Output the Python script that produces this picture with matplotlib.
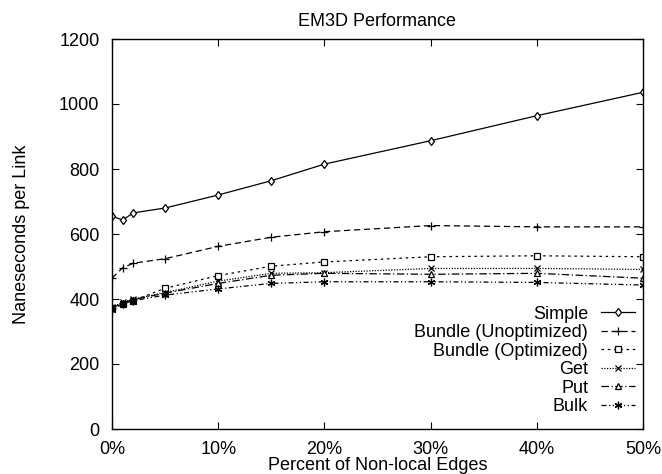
import matplotlib
matplotlib.use("Agg")
import matplotlib.pyplot as plt

plt.rcParams['font.family'] = ['Liberation Sans', 'DejaVu Sans']

x_pct = [0, 1, 2, 5, 10, 15, 20, 30, 40, 50]
simple = [655, 643, 665, 680, 720, 764, 815, 887, 964, 1036]
bundle_unopt = [464, 496, 510, 524, 562, 590, 607, 626, 622, 622]
bundle_opt = [371, 385, 395, 433, 472, 501, 514, 530, 533, 530]
get_vals = [375, 390, 400, 420, 455, 479, 481, 494, 494, 491]
put_vals = [372, 388, 398, 418, 448, 473, 479, 476, 479, 464]
bulk_vals = [365, 385, 395, 412, 431, 448, 453, 453, 451, 443]

labels = ["Simple", "Bundle (Unoptimized)", "Bundle (Optimized)", "Get", "Put", "Bulk"]
series = [simple, bundle_unopt, bundle_opt, get_vals, put_vals, bulk_vals]
xticks = [0, 10, 20, 30, 40, 50]
xticklabels = ["0%", "10%", "20%", "30%", "40%", "50%"]
yticks = [0, 200, 400, 600, 800, 1000, 1200]

styles = [
    dict(ls='-', marker='d', mfc='white', ms=4.5),
    dict(ls=(0, (5, 3)), marker='+', ms=6),
    dict(ls=(0, (2, 3)), marker='s', mfc='white', ms=4.5),
    dict(ls=(0, (1, 1.2)), marker='x', ms=4.5),
    dict(ls=(0, (6, 2, 1, 2)), marker='^', mfc='white', ms=4.5),
    dict(ls=(0, (4, 2, 1, 2, 1, 2)), marker=(6, 2, 0), ms=5.5),
]

fig = plt.figure(figsize=(6.62, 4.74), dpi=100)
ax = fig.add_axes([112/662, 1-429/474, 531/662, 390/474])

for lab, vals, st in zip(labels, series, styles):
    ax.plot(x_pct, vals, color='black', lw=0.9, mec='black', mew=0.9, label=lab, **st)

ax.set_xlim(0, 50)
ax.set_ylim(0, 1200)
ax.set_xticks(xticks)
ax.set_xticklabels(xticklabels)
ax.set_yticks(yticks)
ax.tick_params(direction='in', length=5, width=0.8, top=True, right=True, labelsize=13, pad=9, colors='black')
for s in ax.spines.values():
    s.set_linewidth(1.0)

ax.set_title("EM3D Performance", fontsize=13, pad=9)
ax.set_xlabel("Percent of Non-local Edges", fontsize=13, labelpad=-1)
ax.set_ylabel("Naneseconds per Link", fontsize=13, labelpad=21)

leg = ax.legend(loc='lower right', bbox_to_anchor=(0.985, 0.036), frameon=False,
                markerfirst=False, fontsize=13, handlelength=1.9, handletextpad=0.7,
                labelspacing=0.08, borderpad=0, borderaxespad=0, numpoints=1)

fig.savefig("out.png", dpi=100)
